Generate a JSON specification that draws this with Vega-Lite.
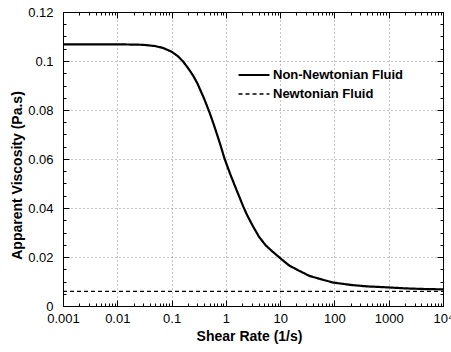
{
  "$schema": "https://vega.github.io/schema/vega-lite/v6.json",
  "width": 380,
  "height": 294,
  "autosize": "none",
  "padding": {"left": 63, "top": 12, "right": 8, "bottom": 46},
  "background": "white",
  "config": {
    "font": "Liberation Sans",
    "view": {"stroke": "black", "strokeWidth": 1},
    "axis": {
      "domainColor": "black",
      "tickColor": "black",
      "labelColor": "black",
      "titleColor": "black",
      "labelFont": "Liberation Sans",
      "labelFontSize": 13,
      "titleFont": "Liberation Sans",
      "titleFontSize": 14,
      "titleFontWeight": "bold"
    }
  },
  "data": {
    "values": [
      {"rate": 0.001, "visc": 0.1068, "fluid": "Non-Newtonian Fluid"},
      {"rate": 0.003, "visc": 0.1068, "fluid": "Non-Newtonian Fluid"},
      {"rate": 0.01, "visc": 0.1068, "fluid": "Non-Newtonian Fluid"},
      {"rate": 0.02, "visc": 0.1067, "fluid": "Non-Newtonian Fluid"},
      {"rate": 0.03, "visc": 0.1066, "fluid": "Non-Newtonian Fluid"},
      {"rate": 0.05, "visc": 0.1061, "fluid": "Non-Newtonian Fluid"},
      {"rate": 0.07, "visc": 0.1053, "fluid": "Non-Newtonian Fluid"},
      {"rate": 0.1, "visc": 0.1038, "fluid": "Non-Newtonian Fluid"},
      {"rate": 0.13, "visc": 0.102, "fluid": "Non-Newtonian Fluid"},
      {"rate": 0.16, "visc": 0.1, "fluid": "Non-Newtonian Fluid"},
      {"rate": 0.2, "visc": 0.0972, "fluid": "Non-Newtonian Fluid"},
      {"rate": 0.25, "visc": 0.094, "fluid": "Non-Newtonian Fluid"},
      {"rate": 0.3, "visc": 0.0908, "fluid": "Non-Newtonian Fluid"},
      {"rate": 0.4, "visc": 0.0845, "fluid": "Non-Newtonian Fluid"},
      {"rate": 0.5, "visc": 0.079, "fluid": "Non-Newtonian Fluid"},
      {"rate": 0.6, "visc": 0.074, "fluid": "Non-Newtonian Fluid"},
      {"rate": 0.7, "visc": 0.0695, "fluid": "Non-Newtonian Fluid"},
      {"rate": 0.8, "visc": 0.0655, "fluid": "Non-Newtonian Fluid"},
      {"rate": 0.95, "visc": 0.06, "fluid": "Non-Newtonian Fluid"},
      {"rate": 1.2, "visc": 0.0539, "fluid": "Non-Newtonian Fluid"},
      {"rate": 1.5, "visc": 0.0485, "fluid": "Non-Newtonian Fluid"},
      {"rate": 2.1, "visc": 0.0405, "fluid": "Non-Newtonian Fluid"},
      {"rate": 2.5, "visc": 0.0368, "fluid": "Non-Newtonian Fluid"},
      {"rate": 3.2, "visc": 0.0323, "fluid": "Non-Newtonian Fluid"},
      {"rate": 4.1, "visc": 0.0282, "fluid": "Non-Newtonian Fluid"},
      {"rate": 5.4, "visc": 0.0248, "fluid": "Non-Newtonian Fluid"},
      {"rate": 7, "visc": 0.0225, "fluid": "Non-Newtonian Fluid"},
      {"rate": 9.7, "visc": 0.0198, "fluid": "Non-Newtonian Fluid"},
      {"rate": 14.7, "visc": 0.0165, "fluid": "Non-Newtonian Fluid"},
      {"rate": 22.8, "visc": 0.0143, "fluid": "Non-Newtonian Fluid"},
      {"rate": 34.5, "visc": 0.0123, "fluid": "Non-Newtonian Fluid"},
      {"rate": 53, "visc": 0.0111, "fluid": "Non-Newtonian Fluid"},
      {"rate": 93, "visc": 0.0096, "fluid": "Non-Newtonian Fluid"},
      {"rate": 200, "visc": 0.0086, "fluid": "Non-Newtonian Fluid"},
      {"rate": 400, "visc": 0.008, "fluid": "Non-Newtonian Fluid"},
      {"rate": 786, "visc": 0.0077, "fluid": "Non-Newtonian Fluid"},
      {"rate": 2000, "visc": 0.0072, "fluid": "Non-Newtonian Fluid"},
      {"rate": 5000, "visc": 0.0069, "fluid": "Non-Newtonian Fluid"},
      {"rate": 10000, "visc": 0.0068, "fluid": "Non-Newtonian Fluid"},
      {"rate": 0.001, "visc": 0.006, "fluid": "Newtonian Fluid"},
      {"rate": 10000, "visc": 0.006, "fluid": "Newtonian Fluid"}
    ]
  },
  "layer": [
    {
      "mark": {"type": "line", "color": "black", "clip": true},
      "encoding": {
        "x": {
          "field": "rate",
          "type": "quantitative",
          "scale": {"type": "log", "domain": [0.001, 10000], "nice": false},
          "axis": {
            "orient": "bottom",
            "values": [0.001, 0.002, 0.003, 0.004, 0.005, 0.006, 0.007, 0.008, 0.009, 0.01, 0.02, 0.03, 0.04, 0.05, 0.06, 0.07, 0.08, 0.09, 0.1, 0.2, 0.3, 0.4, 0.5, 0.6, 0.7, 0.8, 0.9, 1, 2, 3, 4, 5, 6, 7, 8, 9, 10, 20, 30, 40, 50, 60, 70, 80, 90, 100, 200, 300, 400, 500, 600, 700, 800, 900, 1000, 2000, 3000, 4000, 5000, 6000, 7000, 8000, 9000, 10000],
            "labelExpr": "abs(log(datum.value)/LN10 - round(log(datum.value)/LN10)) < 0.001 ? (datum.value > 5000 ? '10⁴' : format(datum.value, '~g')) : ''",
            "labelFlush": false,
            "labelOverlap": false,
            "labelPadding": 12,
            "tickSize": {"condition": {"test": "abs(log(datum.value)/LN10 - round(log(datum.value)/LN10)) < 0.001", "value": -6}, "value": -3},
            "grid": true,
            "gridColor": "#888",
            "gridDash": [1, 3],
            "gridOpacity": {"condition": {"test": "abs(log(datum.value)/LN10 - round(log(datum.value)/LN10)) < 0.001", "value": 1}, "value": 0},
            "title": "Shear Rate  (1/s)",
            "titleBaseline": "alphabetic",
            "titleY": 34,
            "titleX": 186
          }
        },
        "y": {
          "field": "visc",
          "type": "quantitative",
          "scale": {"domain": [0, 0.12], "nice": false},
          "axis": {
            "orient": "left",
            "values": [0, 0.005, 0.01, 0.015, 0.02, 0.025, 0.03, 0.035, 0.04, 0.045, 0.05, 0.055, 0.06, 0.065, 0.07, 0.075, 0.08, 0.085, 0.09, 0.095, 0.1, 0.105, 0.11, 0.115, 0.12],
            "labelExpr": "abs(datum.value*50 - round(datum.value*50)) < 0.001 ? format(datum.value, '~g') : ''",
            "labelOverlap": false,
            "labelFlush": false,
            "labelPadding": 16,
            "tickSize": {"condition": {"test": "abs(datum.value*50 - round(datum.value*50)) < 0.001", "value": -6}, "value": -3},
            "grid": true,
            "gridColor": "#888",
            "gridDash": [1, 3],
            "gridOpacity": {"condition": {"test": "abs(datum.value*50 - round(datum.value*50)) < 0.001", "value": 1}, "value": 0},
            "title": "Apparent Viscosity (Pa.s)",
            "titleBaseline": "alphabetic",
            "titleAngle": -90,
            "titleX": -42,
            "titleY": 163
          }
        },
        "strokeDash": {
          "field": "fluid",
          "type": "nominal",
          "scale": {"domain": ["Non-Newtonian Fluid", "Newtonian Fluid"], "range": [[1, 0], [4, 3]]},
          "legend": {
            "title": null,
            "orient": "none",
            "legendX": 182,
            "legendY": 54,
            "padding": 0,
            "symbolType": "M-2,0H2",
            "symbolSize": 240,
            "symbolStrokeColor": "black",
            "symbolStrokeWidth": 1.8,
            "labelFont": "Liberation Sans",
            "labelFontSize": 13,
            "labelFontWeight": "bold",
            "labelColor": "black",
            "labelOffset": 10,
            "rowPadding": 3.5
          }
        },
        "strokeWidth": {
          "field": "fluid",
          "type": "nominal",
          "scale": {"domain": ["Non-Newtonian Fluid", "Newtonian Fluid"], "range": [2.2, 1.3]},
          "legend": null
        }
      }
    },
    {
      "mark": {"type": "line", "opacity": 0},
      "encoding": {
        "x": {
          "field": "rate",
          "type": "quantitative",
          "axis": {
            "orient": "top",
            "values": [0.001, 0.002, 0.003, 0.004, 0.005, 0.006, 0.007, 0.008, 0.009, 0.01, 0.02, 0.03, 0.04, 0.05, 0.06, 0.07, 0.08, 0.09, 0.1, 0.2, 0.3, 0.4, 0.5, 0.6, 0.7, 0.8, 0.9, 1, 2, 3, 4, 5, 6, 7, 8, 9, 10, 20, 30, 40, 50, 60, 70, 80, 90, 100, 200, 300, 400, 500, 600, 700, 800, 900, 1000, 2000, 3000, 4000, 5000, 6000, 7000, 8000, 9000, 10000],
            "labels": false,
            "grid": false,
            "title": null,
            "tickSize": {"condition": {"test": "abs(log(datum.value)/LN10 - round(log(datum.value)/LN10)) < 0.001", "value": -6}, "value": -3}
          }
        },
        "y": {
          "field": "visc",
          "type": "quantitative",
          "axis": {
            "orient": "right",
            "values": [0, 0.005, 0.01, 0.015, 0.02, 0.025, 0.03, 0.035, 0.04, 0.045, 0.05, 0.055, 0.06, 0.065, 0.07, 0.075, 0.08, 0.085, 0.09, 0.095, 0.1, 0.105, 0.11, 0.115, 0.12],
            "labels": false,
            "grid": false,
            "title": null,
            "tickSize": {"condition": {"test": "abs(datum.value*50 - round(datum.value*50)) < 0.001", "value": -6}, "value": -3}
          }
        }
      }
    }
  ],
  "resolve": {"axis": {"x": "independent", "y": "independent"}}
}
